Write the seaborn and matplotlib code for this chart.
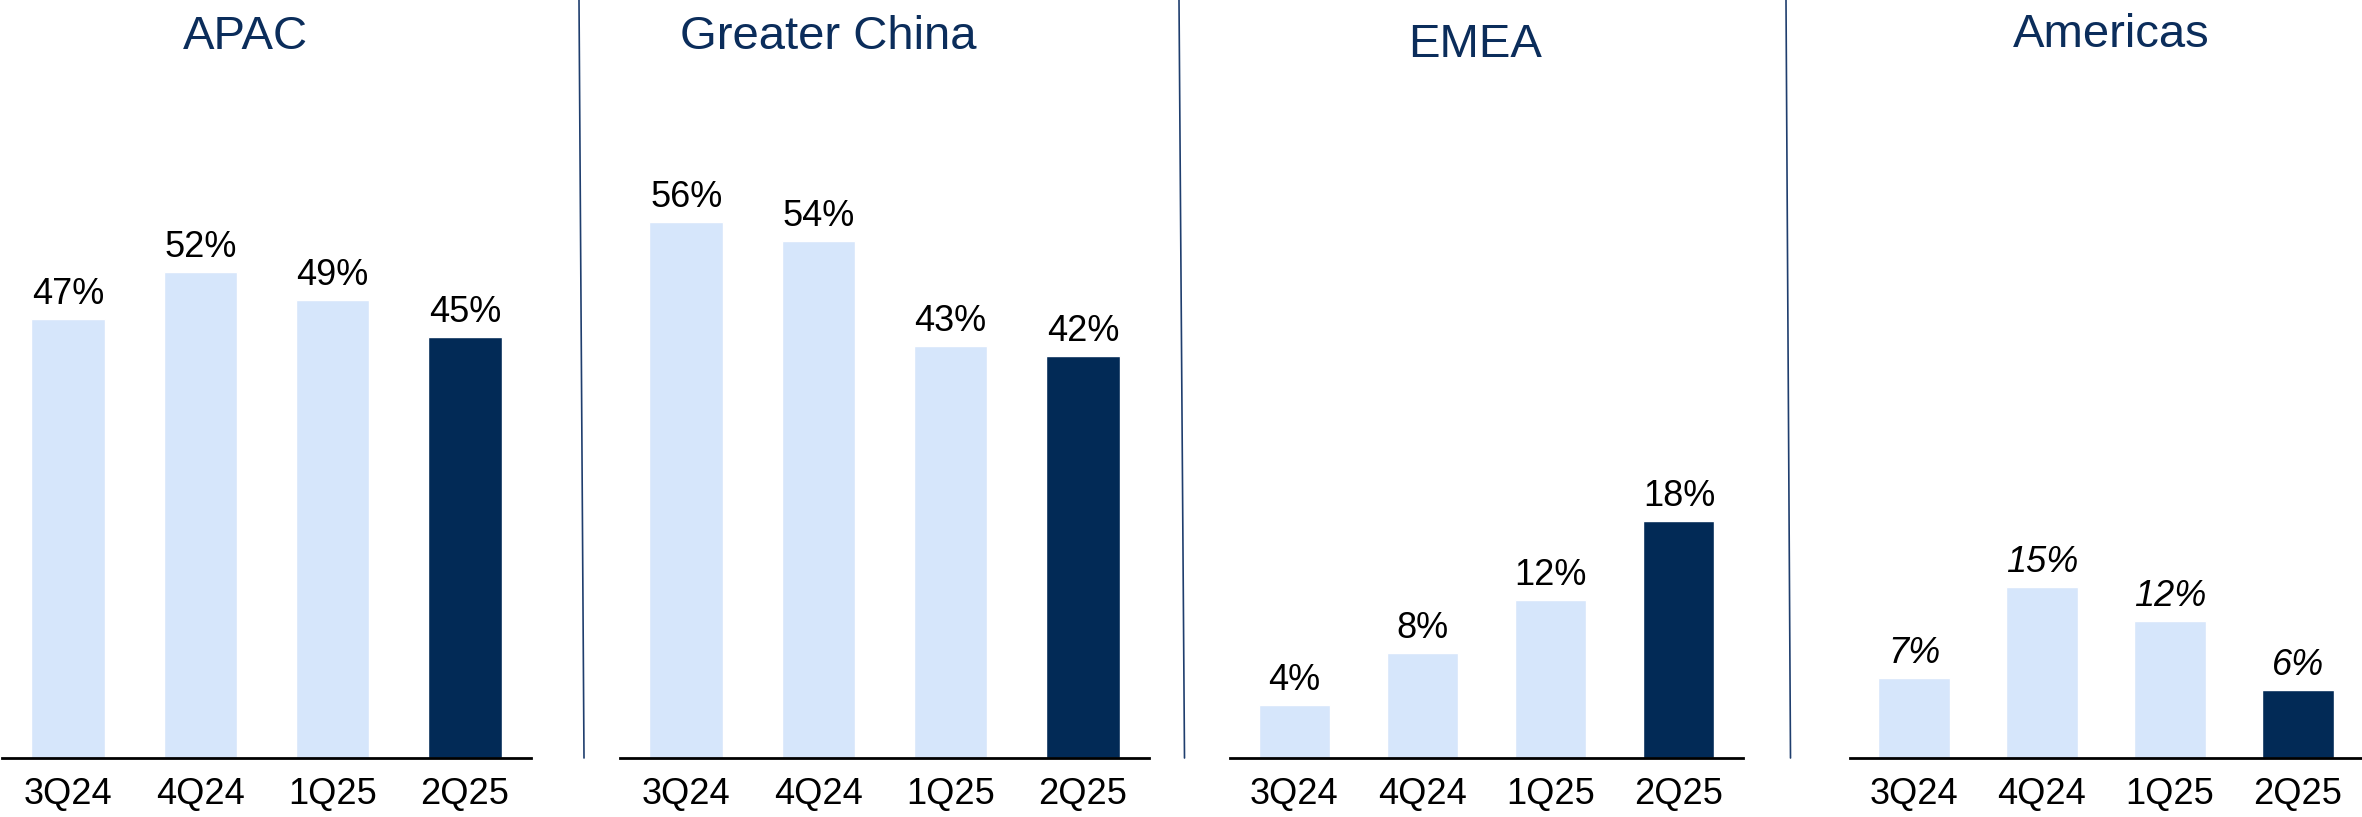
import matplotlib
matplotlib.use("Agg")
import matplotlib.pyplot as plt
from matplotlib.lines import Line2D
import pandas as pd
import seaborn as sns

# ---- data -------------------------------------------------------------
quarters = ["3Q24", "4Q24", "1Q25", "2Q25"]
regions = ["APAC", "Greater China", "EMEA", "Americas"]
apac = [47, 52, 49, 45]
greater_china = [56, 54, 43, 42]
emea = [4, 8, 12, 18]
americas = [7, 15, 12, 6]
series = [apac, greater_china, emea, americas]

# ---- styling ----------------------------------------------------------
sns.set_theme(style="white")
plt.rcParams["font.family"] = ["Liberation Sans", "DejaVu Sans"]

LIGHT = "#D6E6FB"
DARK = "#022A56"
NAVY = "#0B2D5B"
palette = {q: (DARK if q == quarters[-1] else LIGHT) for q in quarters}

W, H = 2362, 817
fig = plt.figure(figsize=(W / 100, H / 100), dpi=100)

BASE = 758  # baseline, px from top

# panel layout in pixels: (left, right, px per percentage point, title x, title baseline)
panels = [
    (2, 531, 9.35, 245, 49),
    (620, 1149, 9.57, 828, 49),
    (1230, 1743, 13.17, 1475, 57),
    (1850, 2362, 11.40, 2111, 47),
]
italic_labels = [False, False, False, True]

for region, vals, (l, r, scale, tx, ty), ital in zip(regions, series, panels, italic_labels):
    ax = fig.add_axes([l / W, 1 - BASE / H, (r - l) / W, BASE / H])
    df = pd.DataFrame({"quarter": quarters, "value": vals})
    sns.barplot(data=df, x="quarter", y="value", hue="quarter", palette=palette,
                width=0.555, legend=False, ax=ax, saturation=1)
    ax.set_xlim(-0.5, 3.5)
    ax.set_ylim(0, BASE / scale)
    ax.set_xlabel("")
    ax.set_ylabel("")
    ax.set_yticks([])
    ax.set_xticks(range(len(quarters)))
    ax.set_xticklabels(quarters, fontsize=26, color="black")
    ax.tick_params(axis="x", length=0, pad=14)
    for s in ("top", "left", "right"):
        ax.spines[s].set_visible(False)
    ax.spines["bottom"].set_color("black")
    ax.spines["bottom"].set_linewidth(2.0)
    ax.patch.set_alpha(0)
    for i, v in enumerate(vals):
        ax.annotate(f"{v}%", (i, v), xytext=(0, 10.8), textcoords="offset points",
                    ha="center", va="baseline", fontsize=26, color="black",
                    style="italic" if ital else "normal")
    fig.text(tx / W, 1 - ty / H, region, ha="center", va="baseline",
             fontsize=34, color=NAVY)

# thin vertical separators between the regions
for x_top, x_bot in [(579, 584), (1179, 1184.5), (1786, 1790.5)]:
    fig.add_artist(Line2D([x_top / W, x_bot / W], [1.0, 1 - BASE / H],
                          transform=fig.transFigure, color="#1F3E6E", linewidth=1.2))

fig.savefig("out.png", dpi=100, facecolor="white")
